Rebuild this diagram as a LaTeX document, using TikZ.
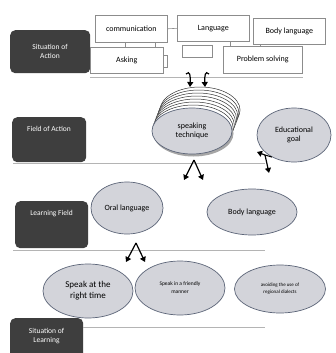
\documentclass[tikz,border=0pt]{standalone}
\usepackage{fontspec}
\setmainfont{Carlito}
\usetikzlibrary{shapes.geometric,arrows.meta}
\definecolor{boxdark}{HTML}{3E3E3E}
\definecolor{ellfill}{HTML}{D3D4DA}
\definecolor{elldraw}{HTML}{5C6578}
\definecolor{rule}{HTML}{B4B4B4}
\definecolor{boxline}{HTML}{8C8C8C}
\begin{document}
\begin{tikzpicture}[x=1pt,y=-1pt,
  darkbox/.style={fill=boxdark, rounded corners=5pt, draw=none, inner sep=0pt, anchor=north west},
  darklabel/.style={text=white, font=\fontsize{7.5}{9}\selectfont, align=center, inner sep=0pt},
  wbox/.style={draw=boxline, fill=white, line width=0.6pt, inner sep=0pt, anchor=north west, font=\fontsize{8}{9}\selectfont},
  oval/.style={ellipse, draw=elldraw, fill=ellfill, line width=0.7pt, inner sep=0pt, align=center},
  stackoval/.style={ellipse, draw=black!80, fill=white, line width=0.5pt, inner sep=0pt, minimum width=80pt, minimum height=46pt},
  hrule/.style={draw=rule, line width=0.9pt},
  link/.style={draw=boxline, line width=0.6pt},
  arr/.style={draw=black, line width=1.2pt, -{Triangle[length=5pt,width=6pt]}}
]
\fill[white] (0,0) rectangle (336,353);
\useasboundingbox (0,0) rectangle (336,353);
\clip (0,0) rectangle (336,353);

% dark boxes
\node[darkbox, minimum width=80pt, minimum height=43pt] (soa) at (10,30) {};
\node[darklabel] (soat) at (50,51.5) {Situation of\\Action};
\node[darkbox, minimum width=74pt, minimum height=45pt] (foa) at (12,117) {};
\node[darklabel] (foat) at (49,129) {Field of Action};
\node[darkbox, minimum width=73pt, minimum height=47pt] (lf) at (15,201) {};
\node[darklabel] (lft) at (51.5,214) {Learning Field};
\node[darkbox, minimum width=73pt, minimum height=45pt] (sol) at (10,318) {};
\node[darklabel] (solt) at (46.5,336) {Situation of\\Learning};

% rules
\coordinate (r1a) at (90,77); \coordinate (r1b) at (303,77);
\coordinate (r2a) at (13,163); \coordinate (r2b) at (265,163);
\coordinate (r3a) at (13,250); \coordinate (r3b) at (265,250);
\coordinate (r4a) at (83,327); \coordinate (r4b) at (265,327);
\draw[hrule] (r1a) -- (r1b);
\draw[hrule] (r2a) -- (r2b);
\draw[hrule] (r3a) -- (r3b);
\draw[hrule] (r4a) -- (r4b);

% top boxes
\node[wbox, minimum width=72pt, minimum height=27pt] (comm) at (95,15) {};
\node[wbox, minimum width=72pt, minimum height=26pt] (lang) at (177,15) {};
\node[wbox, minimum width=72pt, minimum height=26pt] (body) at (253,18) {};
\node[wbox, minimum width=73pt, minimum height=26pt] (ask) at (90,47) {};
\node[wbox, minimum width=4pt, minimum height=12pt] (tab) at (163,55) {};
\node[wbox, minimum width=30pt, minimum height=12pt] (empty) at (182,45) {};
\node[wbox, minimum width=79pt, minimum height=27pt] (prob) at (223,46) {};
\node[font=\fontsize{8}{9}\selectfont] (commt) at (comm.center) {communication};
\node[font=\fontsize{8}{9}\selectfont] (langt) at (lang.center) {Language};
\node[font=\fontsize{8}{9}\selectfont] (bodyt) at (body.center) {Body language};
\node[font=\fontsize{8}{9}\selectfont] (askt) at (ask.center) {Asking};
\node[font=\fontsize{8}{9}\selectfont] (probt) at (prob.center) {Problem solving};

\draw[link] (comm.east) -- (lang.west);
\draw[link] (comm.south -| 125,0) -- (ask.north -| 125,0);
\draw[link] (comm.south -| 155,0) -- (ask.north -| 155,0);
\draw[link] (lang.south -| 230,0) -- (prob.north -| 230,0);
\draw[link] (body.south -| 260,0) -- (prob.north -| 260,0);

% bent arrows
\coordinate (ba1) at (186,74);
\coordinate (ba2) at (209,74);
\coordinate (ba1e) at (190,87);
\coordinate (ba2e) at (205,87);
\draw[arr] (ba1) .. controls (190,70) and (190.5,76) .. (ba1e);
\draw[arr] (ba2) .. controls (205,70) and (204.5,76) .. (ba2e);

% speaking technique stack
\foreach \i in {7,6,...,1}{
  \node[stackoval] (st\i) at ({192+1.15*\i},{131-3*\i}) {};
}
\fill[black!35] (193.5,133.5) ellipse (40pt and 23pt);
\node[oval, minimum width=80pt, minimum height=46pt, font=\fontsize{8}{9.5}\selectfont] (speak) at (192,131) {speaking\\technique};

\node[oval, minimum width=74pt, minimum height=54pt, font=\fontsize{8}{9.5}\selectfont] (edu) at (294,135) {Educational\\goal};

% educational goal arrows
\coordinate (ej) at (265,155);
\coordinate (el) at (257,152);
\coordinate (ed) at (269,173);
\draw[draw=black, line width=1pt] (edu.225) -- (ej);
\draw[arr] (ej) -- (el);
\draw[arr] (ej) -- (ed);

% split arrows
\coordinate (s1) at (194,160);
\coordinate (s1l) at (184,180);
\coordinate (s1r) at (203,180);
\draw[arr] (s1) -- (s1l);
\draw[arr] (s1) -- (s1r);
\coordinate (s2) at (136,243);
\coordinate (s2l) at (126,262);
\coordinate (s2r) at (145,262);
\draw[arr] (s2) -- (s2l);
\draw[arr] (s2) -- (s2r);

% learning field ellipses
\node[oval, minimum width=72pt, minimum height=52pt, font=\fontsize{8}{9.5}\selectfont] (oral) at (127,208) {Oral language};
\node[oval, minimum width=90pt, minimum height=46pt, font=\fontsize{8}{9.5}\selectfont] (bodyl) at (252,212) {Body language};

% bottom ellipses
\node[oval, minimum width=90pt, minimum height=54pt, font=\fontsize{9}{11}\selectfont] (right) at (88,291) {Speak at the\\right time};
\node[oval, minimum width=90pt, minimum height=54pt, font=\fontsize{5.5}{8}\selectfont] (friend) at (180,288) {Speak in a friendly\\manner};
\node[oval, minimum width=91pt, minimum height=48pt, font=\fontsize{5}{7}\selectfont] (dial) at (280,289) {avoiding the use of\\regional dialects};
\end{tikzpicture}
\end{document}
